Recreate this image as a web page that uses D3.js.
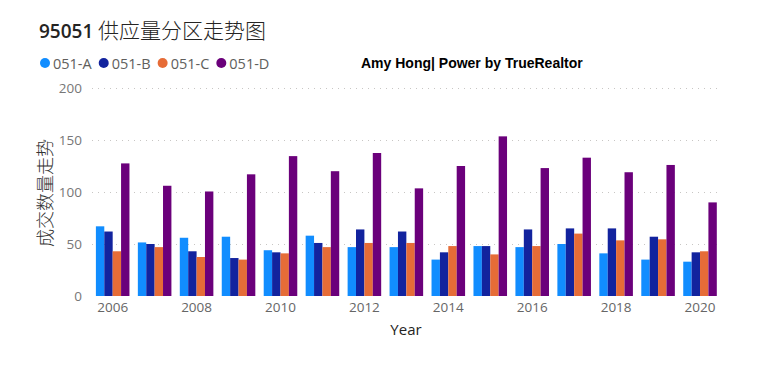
<!DOCTYPE html>
<html><head><meta charset="utf-8">
<script src="https://cdn.jsdelivr.net/npm/d3@7"></script>
<style>body{margin:0;background:#fff;}svg{display:block;}</style>
</head><body>
<svg id="c" width="784" height="376"></svg>
<script>
const years = [2006,2007,2008,2009,2010,2011,2012,2013,2014,2015,2016,2017,2018,2019,2020];
const seriesNames = ["051-A","051-B","051-C","051-D"];
const seriesColors = ["#118DFF","#12239E","#E66C37","#6B007B"];
const valuesA = [67,51.5,56,57,44,58,47,47,35,48,47,50,41,35,33];
const valuesB = [62,50,43,36.5,42,51,64,62,42,48,64,65,65,57,42];
const valuesC = [43,47,37.5,35,41,47,51,51,48,40,48,60,53.5,54.5,43];
const valuesD = [127.5,106,100.5,117,134.5,120,137.5,103.5,125,153.5,123,133,119,126,90];
const yTicks = [0,50,100,150,200];
const xTickYears = [2006,2008,2010,2012,2014,2016,2018,2020];
const allValues = [valuesA,valuesB,valuesC,valuesD];

const svg = d3.select("#c");
const cjk = "'Noto Sans CJK SC','Noto Sans',sans-serif";
const ui = "'Open Sans','Noto Sans',sans-serif";

const x = d3.scaleBand().domain(years).range([91.7,721]).paddingInner(0.2).paddingOuter(0.1);
const xs = d3.scaleBand().domain(seriesNames).range([0,x.bandwidth()]);
const y = d3.scaleLinear().domain([0,200]).range([296,88]);

// title
svg.append("text").attr("x",39).attr("y",38).attr("font-family",cjk).attr("font-size",21)
  .attr("fill","#252423").attr("font-weight",300)
  .html("<tspan font-weight='600' font-family=\"'Open Sans',sans-serif\" font-size='19'>95051</tspan> 供应量分区走势图");

// legend
let lx = 40;
const lg = svg.append("g");
seriesNames.forEach((n,i)=>{
  lg.append("circle").attr("cx",lx+5).attr("cy",63).attr("r",5).attr("fill",seriesColors[i]);
  const t = lg.append("text").attr("x",lx+13).attr("y",68.5).attr("font-family",ui).attr("font-size",14.5)
    .attr("fill","#605E5C").text(n);
  lx += 13 + t.node().getComputedTextLength() + 7;
});
svg.append("text").attr("x",361).attr("y",68).attr("font-family","'Liberation Sans',Arial,sans-serif")
  .attr("font-size",14).attr("font-weight","bold").attr("fill","#000").text("Amy Hong| Power by TrueRealtor");

// grid
svg.append("g").selectAll("line").data(yTicks.filter(d=>d>0)).join("line")
  .attr("x1",92).attr("x2",721).attr("y1",d=>y(d)+0.5).attr("y2",d=>y(d)+0.5)
  .attr("stroke","#C8C6C4").attr("stroke-dasharray","1,5");

// y axis
const ya = svg.append("g").attr("transform","translate(86,0)")
  .call(d3.axisLeft(y).tickValues(yTicks).tickSize(0).tickPadding(4));
ya.select(".domain").remove();
ya.selectAll("text").attr("font-family",ui).attr("font-size",13.5).attr("fill","#777");

svg.append("text").attr("transform","translate(52,193) rotate(-90)").attr("text-anchor","middle")
  .attr("font-family",cjk).attr("font-size",18).attr("font-weight",300).attr("fill","#333").text("成交数量走势");

// bars
const groups = svg.append("g").selectAll("g").data(years).join("g")
  .attr("transform",d=>`translate(${x(d)},0)`);
groups.selectAll("rect").data((d,i)=>seriesNames.map((s,j)=>({s,j,v:allValues[j][i]}))).join("rect")
  .attr("x",d=>xs(d.s)).attr("width",xs.bandwidth())
  .attr("y",d=>y(d.v)).attr("height",d=>y(0)-y(d.v)).attr("fill",d=>seriesColors[d.j]);

// x axis
const xa = svg.append("g").attr("transform","translate(0,296)")
  .call(d3.axisBottom(x).tickValues(xTickYears).tickSize(0).tickPadding(6));
xa.select(".domain").remove();
xa.selectAll("text").attr("font-family",ui).attr("font-size",13.5).attr("fill","#666");

svg.append("text").attr("x",406).attr("y",335).attr("text-anchor","middle").attr("font-family",ui)
  .attr("font-size",15).attr("fill","#252423").text("Year");
</script>
</body></html>
